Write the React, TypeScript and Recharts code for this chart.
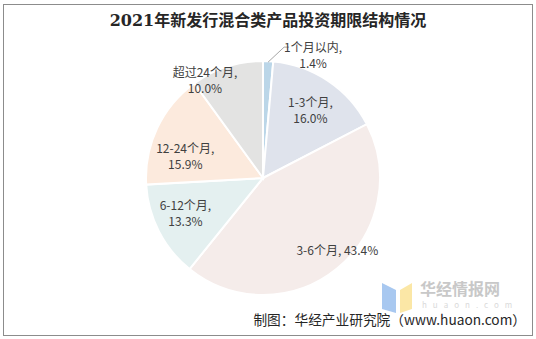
import React from "react";
import { PieChart, Pie, Cell } from "recharts";

const categories = ["1个月以内", "1-3个月", "3-6个月", "6-12个月", "12-24个月", "超过24个月"];
const shares = [1.4, 16.0, 43.4, 13.3, 15.9, 10.0];
const colors = ["#BBD6E8", "#DFE3EC", "#F5ECEA", "#E4F0F0", "#FCEADD", "#E3E3E2"];

const title = "2021年新发行混合类产品投资期限结构情况";
const source = "制图：华经产业研究院（www.huaon.com）";

// label placement: radius and angle shift from the slice middle
const labelPlacement = [
    { r: 133, shift: -19.6, oneLine: false },
    { r: 83, shift: -1, oneLine: false },
    { r: 103, shift: 7, oneLine: true },
    { r: 85, shift: -3, oneLine: false },
    { r: 81, shift: 9, oneLine: false },
    { r: 114, shift: 12.6, oneLine: false },
];

const RADIAN = Math.PI / 180;
const font = "'Noto Sans CJK SC', 'Liberation Sans', sans-serif";

const data = categories.map((name, i) => ({ name, value: shares[i] }));

function renderLabel(props: any) {
    const { cx, cy, midAngle, outerRadius, index, name, value } = props;
    const p = labelPlacement[index];
    const a = (midAngle + p.shift) * RADIAN;
    const x = cx + p.r * Math.cos(-a);
    const y = cy + p.r * Math.sin(-a);
    const textProps = {
        fill: "#404040",
        fontSize: 12,
        fontFamily: font,
        textAnchor: "middle" as const,
        dominantBaseline: "central" as const,
    };
    let line = null;
    if (index === 0) {
        const sx = cx + (outerRadius - 1) * Math.cos(-midAngle * RADIAN);
        const sy = cy + (outerRadius - 1) * Math.sin(-midAngle * RADIAN);
        line = (
            <polyline
                points={`${sx},${sy} ${sx + 16},${sy - 15} ${sx + 21},${sy - 15}`}
                fill="none"
                stroke="#A6A6A6"
                strokeWidth={1}
            />
        );
    }
    if (p.oneLine) {
        return (
            <text x={x} y={y} {...textProps}>
                {`${name}, ${value.toFixed(1)}%`}
            </text>
        );
    }
    return (
        <g>
            {line}
            <text x={x} y={y - 8} {...textProps}>{`${name},`}</text>
            <text x={x} y={y + 8} {...textProps}>{`${value.toFixed(1)}%`}</text>
        </g>
    );
}

export default function App() {
    return (
        <div style={{ position: "fixed", left: 0, top: 0, width: 536, height: 339, background: "#fff" }}>
            <div
                style={{
                    position: "absolute",
                    left: 3,
                    top: 4,
                    width: 528,
                    height: 330,
                    border: "1px solid #8C8C8C",
                }}
            />
            <PieChart width={536} height={339}>
                <Pie
                    data={data}
                    dataKey="value"
                    nameKey="name"
                    cx={258}
                    cy={173}
                    outerRadius={117}
                    startAngle={90}
                    endAngle={-270}
                    stroke="#FFFFFF"
                    strokeWidth={2}
                    label={renderLabel}
                    labelLine={false}
                    isAnimationActive={false}
                >
                    {data.map((entry, index) => (
                        <Cell key={`cell-${index}`} fill={colors[index]} />
                    ))}
                </Pie>
            </PieChart>
            <div
                style={{
                    position: "absolute",
                    left: 0,
                    top: 10,
                    width: 536,
                    textAlign: "center",
                    fontFamily: "'DejaVu Serif', 'Noto Sans CJK SC', serif",
                    fontWeight: "bold",
                    fontSize: 16,
                    color: "#262626",
                    lineHeight: "22px",
                }}
            >
                {title}
            </div>
            <svg style={{ position: "absolute", left: 378, top: 277 }} width={150} height={36}>
                <polygon points="4,6 18,13 18,36 4,32" fill="#A8C8F0" />
                <polygon points="22,13 34,6 34,32 22,36" fill="#FBE7A6" />
                <text x={42} y={18} fontFamily={font} fontSize={16} fontWeight="bold" fill="#C8C8C8">
                    华经情报网
                </text>
                <text x={44} y={31} fontFamily={font} fontSize={8} fill="#DADADA" letterSpacing={6}>
                    huaon.com
                </text>
            </svg>
            <div
                style={{
                    position: "absolute",
                    right: 10,
                    top: 312,
                    fontFamily: font,
                    fontSize: 13.7,
                    color: "#262626",
                    whiteSpace: "nowrap",
                    lineHeight: "15px",
                }}
            >
                {source}
            </div>
        </div>
    );
}
